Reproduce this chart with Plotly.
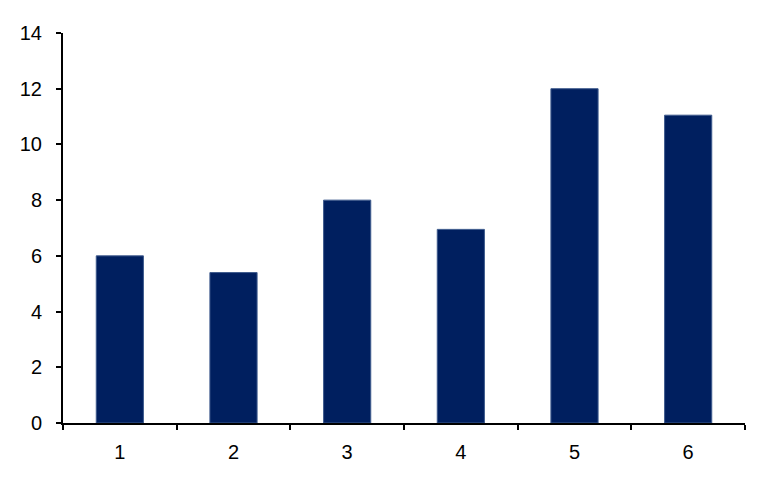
import plotly.graph_objects as go

categories = ["1", "2", "3", "4", "5", "6"]
values = [6.0, 5.4, 8.0, 6.95, 12.0, 11.05]
y_ticks = [0, 2, 4, 6, 8, 10, 12, 14]

fig = go.Figure()
fig.add_trace(
    go.Bar(
        x=categories,
        y=values,
        width=0.415,
        marker=dict(color="#001f5f", line=dict(color="#3d5a8c", width=1)),
        showlegend=False,
    )
)

# page body adds an 8px offset, margins compensate for it
fig.update_layout(
    width=780,
    height=486,
    margin=dict(l=55, r=43, t=25, b=71),
    paper_bgcolor="white",
    plot_bgcolor="white",
    font=dict(family="Liberation Sans, Arial, sans-serif", size=20, color="black"),
)

fig.update_xaxes(
    type="category",
    range=[-0.5, 5.5],
    showline=True,
    linecolor="black",
    linewidth=2,
    ticks="outside",
    tickson="boundaries",
    ticklen=5,
    tickwidth=2,
    tickcolor="black",
    ticklabelstandoff=10,
    showgrid=False,
    zeroline=False,
)
fig.update_yaxes(
    range=[0, 14],
    tickvals=y_ticks,
    showline=True,
    linecolor="black",
    linewidth=2,
    ticks="outside",
    ticklen=5,
    tickwidth=2,
    tickcolor="black",
    ticklabelstandoff=10,
    showgrid=False,
    zeroline=False,
)

fig.write_html("out.html")
